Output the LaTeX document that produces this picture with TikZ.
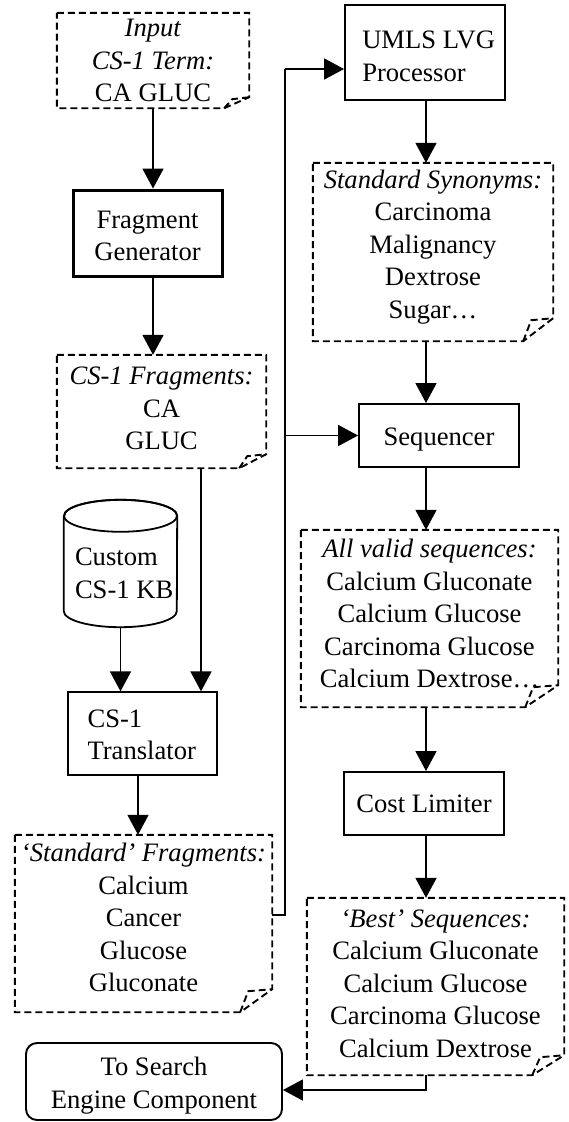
\documentclass[tikz,border=0pt]{standalone}
\usepackage{fontspec}
\setmainfont{Liberation Serif}
\usetikzlibrary{arrows.meta,calc}

\tikzset{
  txt/.style={font=\fontsize{26.6}{32.5}\selectfont, align=center, inner sep=0pt},
  procbox/.style={draw, line width=1.9pt, inner sep=0pt},
  frame/.style={inner sep=0pt},
  docline/.style={line width=1.9pt, dash pattern=on 7pt off 4pt},
  conn/.style={line width=1.8pt, -{Triangle[length=20pt,width=21pt]}},
  wire/.style={line width=1.8pt},
}

% dashed document outline with a curled bottom-right corner
\newcommand\docpath[3]{%
  \draw[docline] (#1.north west) -- (#1.north east) -- ([yshift=#3]#1.south east)
    -- ([xshift=-#2]#1.south east) -- (#1.south west) -- cycle;
  \draw[docline] ([xshift=-#2]#1.south east) -- ([xshift=-#2+8pt,yshift=#3-2pt]#1.south east)
    -- ([yshift=#3]#1.south east);
}

\begin{document}
\begin{tikzpicture}[x=1pt,y=-1pt]
\useasboundingbox (0,0) rectangle (568,1122);

% ---------- left column ----------
\node[frame, minimum width=192pt, minimum height=95pt] (inp) at (153,60.5) {};
\docpath{inp}{25pt}{11pt}
\node[txt] (inpt) at (inp.center) {\textit{Input}\\\textit{CS-1 Term:}\\CA GLUC};

\node[procbox, line width=3pt, minimum width=149pt, minimum height=86pt] (fg) at (147.5,233) {};
\node[txt] (fgt) at ([yshift=-3pt]fg.center) {Fragment\\Generator};

\node[frame, minimum width=209pt, minimum height=113pt] (frags) at (161.5,411.5) {};
\docpath{frags}{27pt}{14pt}
\node[txt] (fragst) at ([yshift=3pt]frags.center) {\textit{CS-1 Fragments:}\\CA\\GLUC};

% knowledge base cylinder
\node[frame, minimum width=113pt, minimum height=127pt] (kb) at (120.5,563.5) {};
\draw[line width=1.8pt] ([yshift=-16pt]kb.north west) -- ([yshift=16pt]kb.south west)
  arc[start angle=180, end angle=360, x radius=56.5pt, y radius=16pt]
  -- ([yshift=-16pt]kb.north east)
  arc[start angle=0, end angle=180, x radius=56.5pt, y radius=16pt];
\draw[line width=1.8pt] ([yshift=-16pt]kb.north) ellipse [x radius=56.5pt, y radius=16pt];
\node[txt, align=left, anchor=west] (kbt) at ([xshift=11pt,yshift=-10pt]kb.west) {Custom\\CS-1 KB};

\node[procbox, line width=1.3pt, minimum width=149pt, minimum height=83pt] (tr) at (142.5,733.5) {};
\node[txt, align=left, anchor=west] (trt) at ([xshift=20pt,yshift=-1.5pt]tr.west) {CS-1\\Translator};

\node[frame, minimum width=257pt, minimum height=177pt] (sf) at (143.5,923.5) {};
\docpath{sf}{32pt}{23pt}
\node[txt] (sft) at ([yshift=6pt]sf.center) {\textit{`Standard' Fragments:}\\Calcium\\Cancer\\Glucose\\Gluconate};

\node[procbox, rounded corners=11pt, minimum width=256pt, minimum height=77pt] (ts) at (154,1081.5) {};
\node[txt] (tst) at ([yshift=-4pt]ts.center) {To Search\\Engine Component};

% ---------- right column ----------
\node[procbox, minimum width=160pt, minimum height=95pt] (umls) at (425,52.5) {};
\node[txt, align=left, anchor=west] (umlst) at ([xshift=18pt,yshift=-4pt]umls.west) {UMLS LVG\\Processor};

\node[frame, minimum width=240pt, minimum height=178pt] (syn) at (433,252) {};
\docpath{syn}{30pt}{23pt}
\node[txt] (synt) at ([yshift=5pt]syn.center) {\textit{Standard Synonyms:}\\Carcinoma\\Malignancy\\Dextrose\\Sugar…};

\node[procbox, minimum width=160pt, minimum height=63pt] (seq) at (439,435.5) {};
\node[txt] (seqt) at ([yshift=-4pt]seq.center) {Sequencer};

\node[frame, minimum width=257pt, minimum height=177pt] (valid) at (429.5,618.5) {};
\docpath{valid}{33pt}{22pt}
\node[txt] (validt) at ([yshift=5pt]valid.center) {\textit{All valid sequences:}\\Calcium Gluconate\\Calcium Glucose\\Carcinoma Glucose\\Calcium Dextrose…};

\node[procbox, minimum width=160pt, minimum height=63pt] (cost) at (424,803.5) {};
\node[txt] (costt) at (cost.center) {Cost Limiter};

\node[frame, minimum width=257pt, minimum height=177pt] (best) at (435.5,986.5) {};
\docpath{best}{32pt}{20pt}
\node[txt] (bestt) at ([yshift=3pt]best.center) {\textit{`Best' Sequences:}\\Calcium Gluconate\\Calcium Glucose\\Carcinoma Glucose\\Calcium Dextrose};

% ---------- connectors ----------
\draw[conn] (inp.south) -- (inp.south |- fg.north);
\draw[conn] (inp.south |- fg.south) -- (inp.south |- frags.north);
\draw[conn] ([xshift=39.5pt]frags.south) -- ([xshift=39.5pt]frags.south |- tr.north);
\draw[conn] (kb.south) -- (kb.south |- tr.north);
\draw[conn] ([xshift=-4.5pt]tr.south) -- ([xshift=-4.5pt]tr.south |- sf.north);

\coordinate (busb) at (285,915);
\coordinate (bust) at (285,69);
\draw[wire] (sf.east |- busb) -- (busb) -- (bust);
\draw[conn] (bust) -- (bust -| umls.west);
\draw[conn] (seq.west -| bust) -- (seq.west);

\draw[conn] ([xshift=1pt]umls.south) -- ([xshift=1pt]umls.south |- syn.north);
\draw[conn] ([xshift=1pt]umls.south |- syn.south) -- ([xshift=1pt]umls.south |- seq.north);
\draw[conn] ([xshift=1pt]umls.south |- seq.south) -- ([xshift=1pt]umls.south |- valid.north);
\draw[conn] ([xshift=1pt]umls.south |- valid.south) -- ([xshift=1pt]umls.south |- cost.north);
\draw[conn] ([xshift=1pt]umls.south |- cost.south) -- ([xshift=1pt]umls.south |- best.north);

\coordinate (jn) at (426,1090);
\draw[conn] (jn |- best.south) -- (jn) -- (jn -| ts.east);
\end{tikzpicture}
\end{document}
